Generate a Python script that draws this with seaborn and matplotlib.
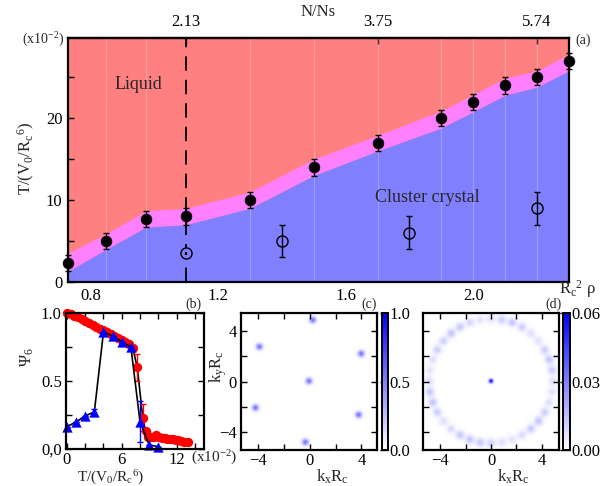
import numpy as np
import pandas as pd
import matplotlib
matplotlib.use("Agg")
import matplotlib.pyplot as plt
import seaborn as sns
from matplotlib.colors import LinearSegmentedColormap
from matplotlib.ticker import MultipleLocator, FixedLocator

# ---------------- panel (a) data ----------------
rho = [0.73, 0.85, 0.975, 1.1, 1.3, 1.5, 1.7, 1.9, 2.0, 2.1, 2.2, 2.3]
T_melt = [2.3, 5.0, 7.7, 8.0, 10.0, 14.0, 17.0, 20.0, 22.0, 24.0, 25.0, 27.0]
T_melt_err = [1.0, 1.0, 1.0, 1.0, 1.0, 1.0, 1.0, 1.0, 1.0, 1.0, 1.0, 1.0]
band_upper = [3.5, 5.9, 8.7, 9.0, 11.0, 15.0, 17.9, 20.9, 22.9, 24.9, 25.8, 27.8]
band_lower = [1.3, 4.0, 6.7, 7.0, 9.0, 13.0, 16.0, 18.8, 20.8, 22.8, 23.8, 25.8]
rho_open = [1.1, 1.4, 1.8, 2.2]
T_open = [3.5, 5.0, 6.0, 9.0]
T_open_err = [0.2, 2.0, 2.0, 2.0]
top_rho = [1.1, 1.7, 2.2]
top_labels = ["2.13", "3.75", "5.74"]

# ---------------- panel (b) data ----------------
T_red = [0.0, 0.4, 0.8, 1.2, 1.6, 2.0, 2.4, 2.8, 3.2, 3.6, 4.0, 4.4, 4.8, 5.2,
         5.6, 6.0, 6.4, 6.8, 7.2, 7.7, 8.3, 8.6, 8.9, 9.2, 9.5, 9.8, 10.1, 10.4,
         10.7, 11.0, 11.3, 11.6, 11.9, 12.2, 12.5, 12.8, 13.2]
psi_red = [1.00, 0.99, 0.98, 0.967, 0.955, 0.94, 0.926, 0.913, 0.90, 0.886, 0.872,
           0.86, 0.846, 0.832, 0.818, 0.803, 0.788, 0.77, 0.745, 0.60, 0.23, 0.13,
           0.09, 0.085, 0.09, 0.10, 0.085, 0.08, 0.078, 0.076, 0.075, 0.07, 0.068,
           0.065, 0.06, 0.055, 0.048]
psi_red_err = [0, 0, 0, 0, 0, 0, 0, 0, 0, 0, 0, 0, 0, 0, 0, 0, 0, 0, 0, 0.1, 0.1,
               0, 0, 0, 0, 0.025, 0, 0, 0, 0, 0, 0, 0, 0, 0, 0, 0]
T_blue = [0, 1, 2, 3, 4, 5, 6, 7, 8, 9, 10]
psi_blue = [0.165, 0.198, 0.244, 0.272, 0.86, 0.832, 0.788, 0.75, 0.20, 0.03, 0.017]
psi_blue_err = [0, 0, 0, 0.025, 0, 0, 0, 0, 0.15, 0, 0]

# ---------------- panel (c) data: Bragg spots ----------------
spot_kx = [0.25, -3.9, 4.0, -0.05, -4.2, 3.8, -0.33]
spot_ky = [4.8, 2.7, 2.15, 0.0, -2.1, -2.65, -4.8]
spot_amp = [0.55, 0.55, 0.55, 0.55, 0.55, 0.55, 0.55]

# ---------------- panel (d) data: ring ----------------
ring_radius = 4.9
ring_angle_deg = [0, 10, 20, 30, 40, 50, 60, 70, 80, 90, 100, 110, 120, 130, 140,
                  150, 160, 170, 180, 190, 200, 210, 220, 230, 240, 250, 260, 270,
                  280, 290, 300, 310, 320, 330, 340, 350]
ring_amp = [0.008, 0.012, 0.014, 0.012, 0.007, 0.008, 0.012, 0.014, 0.012, 0.008,
            0.007, 0.010, 0.013, 0.014, 0.011, 0.012, 0.008, 0.006, 0.009, 0.013,
            0.014, 0.012, 0.008, 0.009, 0.013, 0.014, 0.013, 0.011, 0.008, 0.007,
            0.009, 0.013, 0.014, 0.012, 0.008, 0.007]
center_amp_d = 0.06

# ---------------- style ----------------
sns.set_theme(style="ticks")
plt.rcParams["font.family"] = ["Liberation Serif", "DejaVu Serif"]
plt.rcParams["mathtext.fontset"] = "custom"
plt.rcParams["mathtext.rm"] = "Liberation Serif"
plt.rcParams["mathtext.it"] = "Liberation Serif"
plt.rcParams["mathtext.default"] = "regular"
plt.rcParams["font.size"] = 11
plt.rcParams["axes.linewidth"] = 1.4
plt.rcParams["xtick.direction"] = "in"
plt.rcParams["ytick.direction"] = "in"
plt.rcParams["xtick.major.size"] = 4
plt.rcParams["ytick.major.size"] = 4
plt.rcParams["xtick.minor.size"] = 4
plt.rcParams["ytick.minor.size"] = 4
plt.rcParams["xtick.major.width"] = 1.0
plt.rcParams["ytick.major.width"] = 1.0
plt.rcParams["xtick.minor.width"] = 1.0
plt.rcParams["ytick.minor.width"] = 1.0
plt.rcParams["xtick.color"] = "black"
plt.rcParams["ytick.color"] = "black"
plt.rcParams["axes.edgecolor"] = "black"

W, H = 616, 486
fig = plt.figure(figsize=(W / 100, H / 100), dpi=100)


def rect(l, t, r, b):
    return [l / W, 1 - b / H, (r - l) / W, (b - t) / H]


def ftxt(x, y, s, **kw):
    fig.text(x / W, 1 - y / H, s, **kw)


FS = 12

# ================= panel (a) =================
axA = fig.add_axes(rect(68, 38, 569, 282))
axA.set_facecolor("#ff8080")
axA.fill_between(rho, band_lower, band_upper, color="#ff80ff", lw=0, zorder=1)
axA.fill_between(rho, [0] * len(rho), band_lower, color="#8080ff", lw=0, zorder=1)
for r in rho[1:-1]:
    if r != 1.1:
        axA.axvline(r, color="white", alpha=0.25, lw=0.8, zorder=2)
axA.axvline(1.1, color="black", lw=1.3, dashes=(8, 5), zorder=3)

axA.errorbar(rho, T_melt, yerr=T_melt_err, fmt="none", ecolor="black",
             elinewidth=1.0, capsize=2.5, capthick=1.0, zorder=4, clip_on=False)
sns.scatterplot(x=rho, y=T_melt, ax=axA, color="black", s=60, edgecolor="black",
                linewidth=0.5, zorder=5, clip_on=False, legend=False)
axA.plot(rho_open, T_open, "o", ms=8, mfc="#8080ff", mec="black", mew=1.0,
         zorder=4, ls="none")
axA.errorbar(rho_open[:1], T_open[:1], yerr=T_open_err[:1], fmt="none",
             ecolor="black", elinewidth=1.6, capsize=0, zorder=5)
axA.errorbar(rho_open[1:], T_open[1:], yerr=T_open_err[1:], fmt="none",
             ecolor="black", elinewidth=1.0, capsize=2.5, capthick=1.0, zorder=5)

axA.set_xlim(0.73, 2.3)
axA.set_ylim(0, 29.8)
axA.xaxis.set_major_locator(FixedLocator([0.8, 1.2, 1.6, 2.0]))
axA.xaxis.set_minor_locator(FixedLocator([1.0, 1.4, 1.8, 2.2]))
axA.yaxis.set_major_locator(FixedLocator([0, 10, 20]))
axA.yaxis.set_minor_locator(FixedLocator([5, 15, 25]))
axA.set_xticklabels(["0.8", "1.2", "1.6", "2.0"])
axA.set_yticklabels(["0", "10", "20"])
axA.tick_params(labelsize=FS, pad=4)
axA.set_xlabel("")
axA.set_ylabel("")
for sp in axA.spines.values():
    sp.set_zorder(10)
    sp.set_linewidth(1.6)
secA = axA.secondary_xaxis("top")
secA.set_xticks(top_rho)
secA.set_xticklabels(top_labels)
secA.tick_params(direction="in", length=4, labelsize=FS, pad=6)
secA.spines["top"].set_linewidth(1.6)

axA.text(0.14, 0.81, "Liquid", transform=axA.transAxes, fontsize=FS + 1,
         ha="center", va="center", zorder=11)
axA.text(0.718, 0.347, "Cluster crystal", transform=axA.transAxes, fontsize=FS + 1,
         ha="center", va="center", zorder=11)
ftxt(43, 40, "(x10$^{-2}$)", fontsize=10, ha="center", va="center")
ftxt(583, 40, "(a)", fontsize=10, ha="center", va="center")
ftxt(318, 12, "N/Ns", fontsize=FS, ha="center", va="center")
ftxt(578, 289, "R$_c$$^2$ \u03c1", fontsize=FS, ha="center", va="center")
ftxt(26, 158, "T/(V$_0$/R$_c$$^6$)", fontsize=FS, ha="center", va="center",
     rotation=90)

# ================= panel (b) =================
axB = fig.add_axes(rect(66, 313, 204, 449))
axB.set_facecolor("white")
sns.lineplot(x=T_red, y=psi_red, ax=axB, color="black", lw=1.2, sort=False,
             estimator=None, zorder=2, legend=False)
axB.errorbar(T_red, psi_red, yerr=psi_red_err, fmt="none", ecolor="red",
             elinewidth=1.0, capsize=2, capthick=1.0, zorder=3)
sns.scatterplot(x=T_red, y=psi_red, ax=axB, color="red", s=45, edgecolor="red",
                linewidth=0, zorder=4, clip_on=False, legend=False)
sns.lineplot(x=T_blue, y=psi_blue, ax=axB, color="black", lw=1.2, sort=False,
             estimator=None, zorder=5, legend=False)
axB.errorbar(T_blue, psi_blue, yerr=psi_blue_err, fmt="none", ecolor="blue",
             elinewidth=1.0, capsize=2, capthick=1.0, zorder=6)
sns.scatterplot(x=T_blue, y=psi_blue, ax=axB, color="blue", marker="^", s=55,
                edgecolor="blue", linewidth=0, zorder=7, clip_on=False, legend=False)
axB.set_xlim(-0.1, 15.0)
axB.set_ylim(0, 1.0)
axB.xaxis.set_major_locator(FixedLocator([0, 6, 12]))
axB.xaxis.set_minor_locator(FixedLocator([2, 4, 8, 10, 14]))
axB.yaxis.set_major_locator(FixedLocator([0, 0.5, 1.0]))
axB.yaxis.set_minor_locator(FixedLocator([0.25, 0.75]))
axB.set_xticklabels(["0", "6", "12"])
axB.set_yticklabels(["0,0", "0.5", "1.0"])
axB.tick_params(which="both", top=True, right=True, labelsize=FS, pad=3)
axB.tick_params(axis="x", pad=2)
axB.set_xlabel("")
axB.set_ylabel("")
for sp in axB.spines.values():
    sp.set_linewidth(1.6)
    sp.set_zorder(10)
ftxt(193, 304, "(b)", fontsize=10, ha="center", va="center")
ftxt(214, 458, "(x10$^{-2}$)", fontsize=11, ha="center", va="center")
ftxt(111, 478, "T/(V$_0$/R$_c$$^6$)", fontsize=FS - 1, ha="center", va="center")
ftxt(27, 357, "\u03a8$_6$", fontsize=FS, ha="center", va="center", rotation=90)

# ================= panels (c) and (d): structure factor maps =================
kgrid = np.linspace(-5.4, 5.4, 217)
KX, KY = np.meshgrid(kgrid, kgrid)

imgC = np.zeros_like(KX)
for x0, y0, a in zip(spot_kx, spot_ky, spot_amp):
    imgC += a * np.exp(-((KX - x0) ** 2 + (KY - y0) ** 2) / (2 * 0.18 ** 2))

imgD = np.zeros_like(KX)
for ang, a in zip(ring_angle_deg, ring_amp):
    x0 = ring_radius * np.cos(np.deg2rad(ang))
    y0 = ring_radius * np.sin(np.deg2rad(ang))
    imgD += a * np.exp(-((KX - x0) ** 2 + (KY - y0) ** 2) / (2 * 0.24 ** 2))
imgD += center_amp_d * np.exp(-(KX ** 2 + KY ** 2) / (2 * 0.12 ** 2))

cmap = LinearSegmentedColormap.from_list("wb", ["#ffffff", "#0000ff"])


def style_map(ax, show_y):
    ax.set_xlim(-5.3, 5.2)
    ax.set_ylim(-5.4, 5.4)
    ax.xaxis.set_major_locator(FixedLocator([-4, 0, 4]))
    ax.xaxis.set_minor_locator(FixedLocator([-2, 2]))
    ax.yaxis.set_major_locator(FixedLocator([-4, 0, 4]))
    ax.yaxis.set_minor_locator(FixedLocator([-2, 2]))
    ax.set_xticklabels(["\u22124", "0", "4"])
    if show_y:
        ax.set_yticklabels(["\u22124", "0", "4"])
    else:
        ax.set_yticklabels([])
    ax.tick_params(which="both", top=True, right=True, labelsize=FS, pad=3)
    ax.tick_params(axis="x", pad=2)
    for sp in ax.spines.values():
        sp.set_linewidth(1.6)


axC = fig.add_axes(rect(241, 313, 377, 450))
imC = axC.imshow(imgC, origin="lower", extent=[-5.4, 5.4, -5.4, 5.4], cmap=cmap,
                 vmin=0, vmax=1.0, aspect="auto", interpolation="bilinear")
style_map(axC, True)
ftxt(369, 304, "(c)", fontsize=10, ha="center", va="center")
ftxt(332, 477, "k$_x$R$_c$", fontsize=FS, ha="center", va="center")
ftxt(218, 367, "k$_y$R$_c$", fontsize=FS, ha="center", va="center", rotation=90)

caxC = fig.add_axes(rect(382, 313, 388, 450))
cbC = fig.colorbar(imC, cax=caxC)
cbC.set_ticks([0.0, 0.5, 1.0])
cbC.set_ticklabels(["0.0", "0.5", "1.0"])
cbC.ax.tick_params(direction="in", length=6, labelsize=FS, pad=1, width=1.0)
cbC.outline.set_linewidth(1.4)

axD = fig.add_axes(rect(423, 313, 559, 450))
imD = axD.imshow(imgD, origin="lower", extent=[-5.4, 5.4, -5.4, 5.4], cmap=cmap,
                 vmin=0, vmax=0.06, aspect="auto", interpolation="bilinear")
style_map(axD, False)
axD.set_xlim(-5.35, 5.35)
ftxt(554, 304, "(d)", fontsize=10, ha="center", va="center")
ftxt(513, 477, "k$_x$R$_c$", fontsize=FS, ha="center", va="center")

caxD = fig.add_axes(rect(563, 313, 570, 450))
cbD = fig.colorbar(imD, cax=caxD)
cbD.set_ticks([0.0, 0.03, 0.06])
cbD.set_ticklabels(["0.00", "0.03", "0.06"])
cbD.ax.tick_params(direction="in", length=7, labelsize=FS, pad=1, width=1.0)
cbD.outline.set_linewidth(1.4)

fig.savefig("out.png", dpi=100)
